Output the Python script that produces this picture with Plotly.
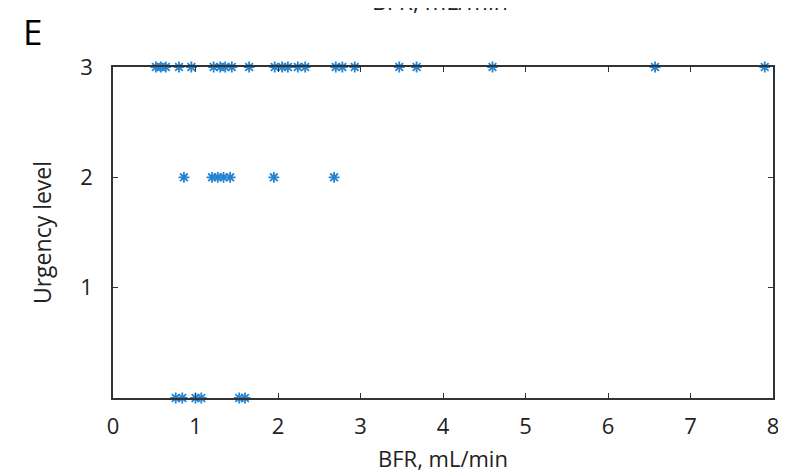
import plotly.graph_objects as go

# Data
bfr_level3 = [0.52, 0.58, 0.64, 0.80, 0.95, 1.22, 1.30, 1.36, 1.44, 1.65,
              1.96, 2.05, 2.12, 2.24, 2.33, 2.70, 2.78, 2.93, 3.47, 3.68,
              4.60, 6.57, 7.90]
bfr_level2 = [0.86, 1.20, 1.27, 1.34, 1.42, 1.95, 2.68]
bfr_level0 = [0.76, 0.84, 1.00, 1.07, 1.53, 1.60]

x_ticks = [0, 1, 2, 3, 4, 5, 6, 7, 8]
y_ticks = [1, 2, 3]

xs = bfr_level3 + bfr_level2 + bfr_level0
ys = [3] * len(bfr_level3) + [2] * len(bfr_level2) + [0] * len(bfr_level0)

FONT = "Open Sans"
BLUE = "#2283d2"

fig = go.Figure()
fig.add_trace(go.Scatter(
    x=xs, y=ys, mode="markers",
    marker=dict(symbol="asterisk-open", size=9, color=BLUE,
                line=dict(color=BLUE, width=1.8)),
    cliponaxis=False, showlegend=False,
))

axis_common = dict(
    showline=True, linecolor="#333333", linewidth=1.5, mirror="ticks",
    ticks="inside", ticklen=5, tickcolor="#333333", tickwidth=1,
    showgrid=False, zeroline=False, automargin=False,
    tickfont=dict(family=FONT, size=22, color="#222222"),
)

fig.update_layout(
    width=776, height=465,
    paper_bgcolor="white", plot_bgcolor="white",
    margin=dict(l=105, r=11, t=59, b=75),
    font=dict(family=FONT, color="#222222"),
    xaxis=dict(range=[0, 8], tickvals=x_ticks, ticklabelstandoff=8,
               **axis_common),
    yaxis=dict(range=[0, 3], tickvals=y_ticks, ticklabelstandoff=14,
               title=dict(text="Urgency level", font=dict(family=FONT, size=23), standoff=22),
               **axis_common),
    annotations=[
        dict(text="BFR, mL/min", xref="paper", yref="paper", x=0.50, y=-0.181,
             xanchor="center", yanchor="middle", showarrow=False,
             font=dict(family=FONT, size=22, color="#222222")),
        dict(text="E", xref="paper", yref="paper", x=-0.14, y=1.108,
             xanchor="left", yanchor="middle", showarrow=False,
             font=dict(family=FONT, size=35, color="black")),
        dict(text="BFR, mL/min", xref="paper", yref="paper", x=0.495, y=1.199,
             xanchor="center", yanchor="middle", showarrow=False,
             font=dict(family=FONT, size=23, color="#222222")),
    ],
)

fig.write_html("out.html")
